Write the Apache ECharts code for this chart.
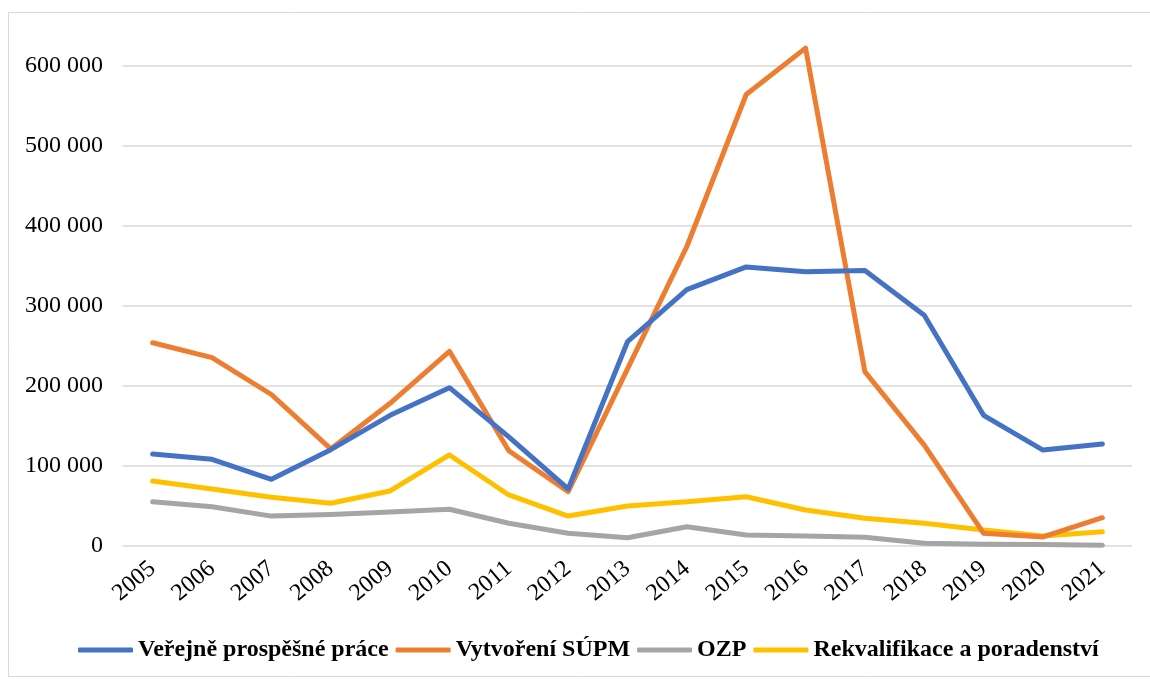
<!DOCTYPE html>
<html>
<head>
<meta charset="utf-8">
<script src="https://cdn.jsdelivr.net/npm/echarts@6/dist/echarts.min.js"></script>
<style>html,body{margin:0;padding:0;background:#fff}#c{width:1150px;height:679px}</style>
</head>
<body>
<div id="c"></div>
<script>
const years = ['2005','2006','2007','2008','2009','2010','2011','2012','2013','2014','2015','2016','2017','2018','2019','2020','2021'];
const seriesNames = ['Veřejně prospěšné práce','Vytvoření SÚPM','OZP','Rekvalifikace a poradenství'];
const vpp  = [114600,108000,83000,120000,163000,197500,136000,71000,255000,320000,348500,342500,344000,288000,163000,119500,127000];
const supm = [253700,235000,189000,121000,178000,243000,118700,67500,221000,374000,564000,622000,217500,125800,15500,11000,35000];
const ozp  = [55000,48700,37000,39000,42000,45500,28000,15500,10000,23700,13400,12000,10500,3000,1800,1500,500];
const rekv = [80900,70900,60500,53000,68400,113400,63400,37100,49600,55000,61200,44600,34200,28000,19600,12100,17500];
const colors = ['#4472C4','#ED7D31','#A5A5A5','#FFC000'];
const dataSets = [vpp, supm, ozp, rekv];

const chart = echarts.init(document.getElementById('c'), null, {renderer:'canvas'});
const font = '"Liberation Serif", "Times New Roman", serif';
chart.setOption({
  animation:false,
  color: colors,
  textStyle:{fontFamily:font},
  graphic:[{type:'rect', shape:{x:8.5,y:12.5,width:1200,height:664}, style:{fill:'none', stroke:'#d9d9d9', lineWidth:1}, silent:true}],
  grid:{left:123, right:18, top:65.7, bottom:133.3, containLabel:false},
  legend:{
    top:633, left:73,
    itemWidth:55, itemHeight:5, itemGap:7,
    icon:'roundRect',
    textStyle:{fontFamily:font, fontWeight:'bold', fontSize:24, color:'#000'},
    data: seriesNames
  },
  xAxis:{
    type:'category', data:years, boundaryGap:true,
    axisLine:{show:false}, axisTick:{show:false},
    axisLabel:{rotate:40, fontFamily:font, fontSize:24, color:'#000', margin:20}
  },
  yAxis:{
    type:'value', min:0, max:600000, interval:100000,
    axisLine:{show:false}, axisTick:{show:false},
    splitLine:{lineStyle:{color:'#d9d9d9', width:1.5}},
    axisLabel:{fontFamily:font, fontSize:24, color:'#000', margin:20,
      formatter:v => v === 0 ? '0' : String(v).replace(/\B(?=(\d{3})+(?!\d))/g,' ')}
  },
  series: seriesNames.map((n,i)=>({
    name:n, type:'line', data:dataSets[i], clip:false,
    symbol:'none', showSymbol:false,
    lineStyle:{width:5, color:colors[i], cap:'round', join:'round'},
    z: 10 - i
  }))
});
</script>
</body>
</html>
